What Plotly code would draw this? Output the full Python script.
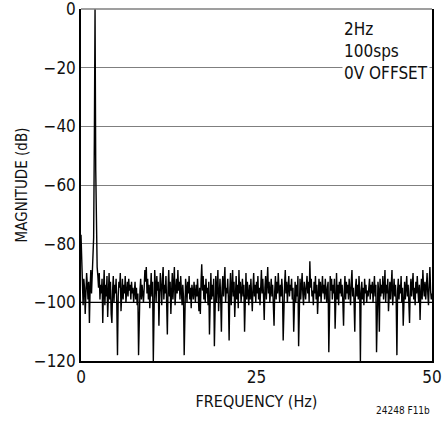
import plotly.graph_objects as go

# FFT magnitude (dB), 0.0 .. 50.0 Hz in 0.1 Hz steps
freq_step = 0.1
magnitude_db = [
    -77, -84, -97, -101, -92, -95, -104, -96, -90, -94,
    -99, -93, -107, -95, -89, -97, -92, -88, -78, -45,
    0, -55, -80, -88, -91, -95, -90, -99, -94, -97,
    -92, -107, -96, -89, -101, -94, -98, -91, -105, -95,
    -90, -99, -93, -104, -107, -96, -91, -100, -94, -97,
    -92, -101, -118, -98, -93, -95, -90, -103, -96, -92,
    -99, -94, -97, -91, -100, -95, -93, -98, -92, -96,
    -94, -99, -93, -97, -95, -100, -96, -93, -99, -95,
    -101, -97, -118, -104, -96, -92, -99, -94, -97, -100,
    -95, -89, -93, -88, -97, -92, -99, -94, -102, -96,
    -90, -98, -93, -120, -97, -89, -94, -100, -91, -96,
    -93, -108, -97, -90, -95, -101, -92, -88, -99, -94,
    -97, -91, -100, -111, -95, -89, -98, -93, -104, -96,
    -90, -99, -94, -88, -101, -95, -92, -97, -89, -96,
    -93, -99, -91, -96, -101, -94, -98, -118, -97, -92,
    -95, -100, -93, -97, -91, -99, -95, -102, -94, -97,
    -99, -93, -96, -100, -94, -98, -92, -97, -103, -95,
    -104, -93, -87, -96, -91, -99, -94, -100, -92, -97,
    -95, -101, -93, -111, -97, -90, -99, -94, -98, -92,
    -115, -96, -91, -100, -94, -89, -103, -96, -92, -99,
    -110, -95, -91, -98, -93, -88, -100, -95, -97, -92,
    -99, -113, -96, -90, -101, -94, -89, -98, -93, -105,
    -96, -91, -99, -94, -102, -89, -97, -93, -100, -95,
    -92, -98, -94, -110, -96, -90, -99, -93, -97, -101,
    -94, -99, -92, -96, -103, -95, -90, -98, -94, -100,
    -93, -97, -91, -99, -95, -101, -94, -89, -97, -92,
    -98, -106, -95, -91, -99, -94, -88, -97, -93, -100,
    -95, -92, -98, -94, -101, -108, -96, -91, -99, -93,
    -97, -90, -95, -100, -94, -98, -92, -96, -113, -99,
    -94, -89, -97, -93, -100, -95, -91, -98, -94, -96,
    -92, -99, -95, -110, -97, -93, -100, -94, -98, -91,
    -115, -96, -92, -99, -94, -90, -97, -101, -93, -96,
    -99, -94, -91, -97, -93, -100, -86, -95, -92, -98,
    -96, -101, -93, -97, -91, -99, -94, -104, -96, -92,
    -98, -93, -100, -95, -91, -97, -94, -99, -92, -96,
    -100, -95, -93, -117, -98, -91, -96, -92, -99, -94,
    -97, -92, -109, -95, -90, -99, -94, -101, -93, -97,
    -92, -98, -94, -100, -108, -96, -91, -99, -93, -97,
    -94, -99, -92, -96, -101, -93, -89, -98, -95, -100,
    -110, -95, -92, -98, -94, -99, -91, -96, -120, -97,
    -93, -99, -95, -101, -92, -97, -94, -100, -96, -98,
    -95, -92, -99, -94, -97, -93, -100, -96, -91, -98,
    -94, -117, -99, -93, -96, -110, -92, -98, -94, -97,
    -91, -99, -95, -89, -100, -94, -97, -92, -103, -96,
    -93, -99, -94, -89, -101, -95, -92, -98, -94, -100,
    -118, -96, -92, -99, -94, -97, -91, -100, -95, -108,
    -97, -93, -99, -95, -91, -98, -94, -100, -107, -96,
    -92, -98, -94, -90, -99, -95, -101, -93, -97, -91,
    -96, -100, -94, -106, -97, -92, -99, -89, -95, -98,
    -93, -99, -95, -90, -97, -101, -94, -88, -96, -99,
    -97,
]
frequency_hz = [round(i * freq_step, 1) for i in range(len(magnitude_db))]

y_ticks = [0, -20, -40, -60, -80, -100, -120]
y_tick_labels = ["0", "\u221220", "\u221240", "\u221260", "\u221280", "\u2212100", "\u2212120"]
x_ticks = [0, 25, 50]
x_tick_labels = ["0", "25", "50"]
note_lines = ["2Hz", "100sps", "0V OFFSET"]

FONT = "Liberation Sans Narrow, DejaVu Sans Condensed, Arial Narrow, sans-serif"

fig = go.Figure()
fig.add_trace(go.Scatter(
    x=frequency_hz, y=magnitude_db, mode="lines",
    line=dict(color="#000000", width=1.4),
    showlegend=False, hoverinfo="skip",
))

# black -100 dB reference line
fig.add_hline(y=-100, line=dict(color="#000000", width=1.2), layer="above")
# grey top border (0 dB line)
fig.add_shape(type="line", xref="paper", yref="paper", x0=0, x1=1, y0=1, y1=1,
              line=dict(color="#7f7f7f", width=1.5), layer="above")

fig.update_layout(
    width=444, height=422,
    margin=dict(l=81, r=12, t=9, b=61, autoexpand=False),
    paper_bgcolor="white", plot_bgcolor="white",
    font=dict(family=FONT, color="#111111", size=17),
    xaxis=dict(
        range=[0, 50], tickvals=x_ticks, ticktext=x_tick_labels,
        showgrid=False, zeroline=False, automargin=False,
        showline=True, linecolor="#000000", linewidth=1.5, mirror=False,
        ticks="", tickfont=dict(size=17), ticklabeloverflow="allow",
        title=dict(text="FREQUENCY (Hz)", font=dict(size=16), standoff=10),
    ),
    yaxis=dict(
        range=[-120, 0], tickvals=y_ticks, ticktext=y_tick_labels,
        showgrid=True, gridcolor="#7f7f7f", gridwidth=1.2, zeroline=False,
        automargin=False, ticklabeloverflow="allow",
        showline=True, linecolor="#000000", linewidth=1.5, mirror=True,
        ticks="", tickfont=dict(size=17),
        title=dict(text="MAGNITUDE (dB)", font=dict(size=15), standoff=3),
    ),
)

fig.add_annotation(
    x=0.745, y=0.978, xref="paper", yref="paper",
    xanchor="left", yanchor="top", align="left",
    text="<br>".join(note_lines), showarrow=False,
    font=dict(family=FONT, size=17, color="#111111"),
    bgcolor="white", borderpad=1,
)
fig.add_annotation(
    x=1.0, y=-0.14, xref="paper", yref="paper",
    xanchor="right", yanchor="middle",
    text="24248 F11b", showarrow=False,
    font=dict(family=FONT, size=10, color="#111111"),
)

fig.write_html("out.html", config={"displayModeBar": False},
               post_script="document.body.style.margin='0';")
